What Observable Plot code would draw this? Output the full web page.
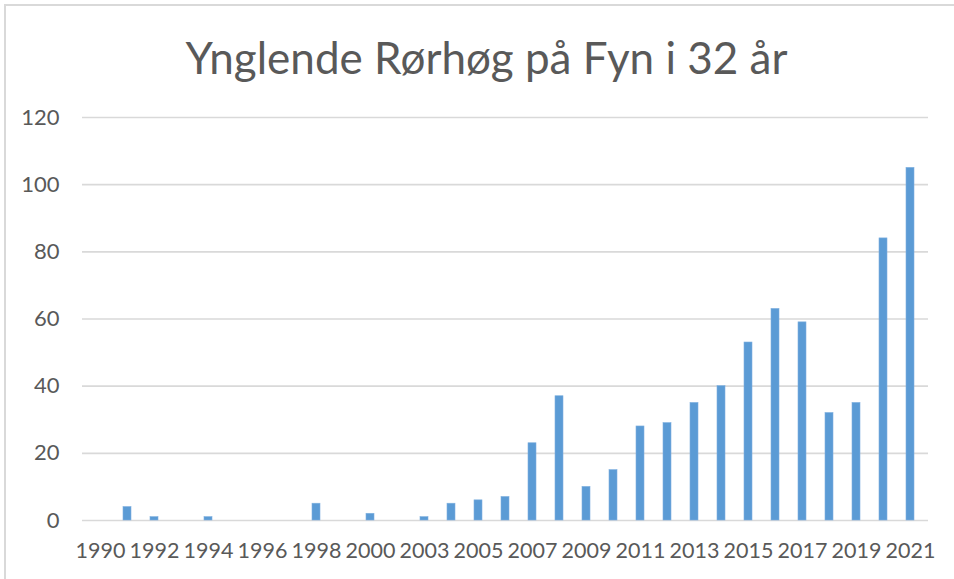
<!DOCTYPE html>
<html>
<head>
<meta charset="utf-8">
<script src="https://cdn.jsdelivr.net/npm/d3@7"></script>
<script src="https://cdn.jsdelivr.net/npm/@observablehq/plot@0.6"></script>
<style>
  html, body { margin: 0; padding: 0; background: #fff; }
  #wrap { position: relative; width: 954px; height: 579px; overflow: hidden; background: #fff; }
  #title {
    height: 100px; box-sizing: border-box; padding-top: 35px; padding-left: 19px;
    text-align: center; font-family: Lato, "Noto Sans", sans-serif; font-size: 44px;
    line-height: 44px; color: #595959; white-space: nowrap;
  }
  #frame {
    position: absolute; left: 4px; top: 4px; right: -10px; bottom: -10px;
    border-left: 2px solid #d9d9d9; border-top: 2px solid #d9d9d9; pointer-events: none;
  }
  #chart svg { display: block; }
</style>
</head>
<body>
<div id="wrap">
  <div id="title"></div>
  <div id="chart"></div>
  <div id="frame"></div>
</div>
<script>
const titleText = "Ynglende Rørhøg på Fyn i 32 år";
const years = ["1990","1991","1992","1993","1994","1995","1996","1997","1998","1999","2000","2002","2003","2004","2005","2006","2007","2008","2009","2010","2011","2012","2013","2014","2015","2016","2017","2018","2019","2020","2021"];
const counts = [0,4,1,0,1,0,0,0,5,0,2,0,1,5,6,7,23,37,10,15,28,29,35,40,53,63,59,32,35,84,105];
const xTickLabels = ["1990","1992","1994","1996","1998","2000","2003","2005","2007","2009","2011","2013","2015","2017","2019","2021"];
const yTicks = [0,20,40,60,80,100,120];

const data = years.map((year, i) => ({year, count: counts[i]}));

document.getElementById("title").textContent = titleText;

const chart = Plot.plot({
  width: 954,
  height: 479,
  marginTop: 17,
  marginBottom: 59,
  marginLeft: 82,
  marginRight: 26,
  style: {fontFamily: "Lato, 'Noto Sans', sans-serif", fontSize: "22px", color: "#595959", background: "#fff"},
  x: {domain: years, paddingInner: 0.7, paddingOuter: 0.35, label: null},
  y: {domain: [0, 120], label: null},
  marks: [
    Plot.gridY(yTicks, {stroke: "#d9d9d9", strokeOpacity: 1, strokeWidth: 1.6}),
    Plot.barY(data, {x: "year", y: "count", fill: "#5b9bd5", stroke: "#7fb0df", strokeWidth: 0.6}),
    Plot.axisY({ticks: yTicks, tickSize: 0, tickPadding: 23, fill: "#595959"}),
    Plot.axisX({ticks: xTickLabels, tickSize: 0, tickPadding: 22, fill: "#595959", fontSize: 21.5})
  ]
});
document.getElementById("chart").appendChild(chart);
</script>
</body>
</html>
